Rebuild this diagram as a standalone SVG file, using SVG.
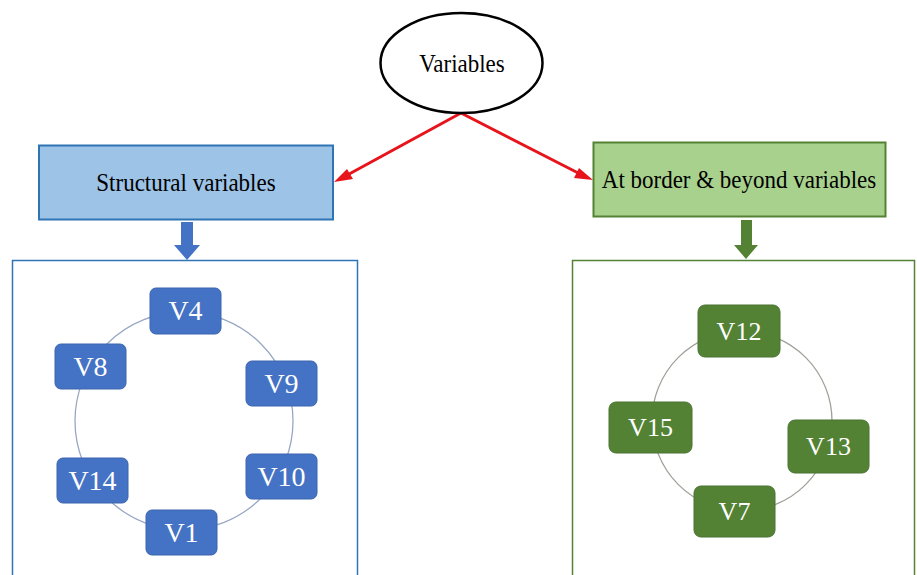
<svg xmlns="http://www.w3.org/2000/svg" width="917" height="575" viewBox="0 0 917 575">
<defs>
<style>
.lbl{font-family:"Liberation Serif","Times New Roman",serif;fill:#000;text-anchor:middle}
.bn rect{fill:#4472C4;stroke:#3B64AD;stroke-width:1}
.gn rect{fill:#548235;stroke:#4A7330;stroke-width:1}
.nt{font-family:"Liberation Serif","Times New Roman",serif;fill:#fff;text-anchor:middle}
</style>
</defs>
<rect width="917" height="575" fill="#fff"/>

<g id="connectors">
<line x1="461" y1="113" x2="340" y2="179" stroke="#E8141B" stroke-width="3"/>
<line x1="461" y1="113" x2="586" y2="177" stroke="#E8141B" stroke-width="3"/>
<path d="M334,182 L347,169 L353,179 z" fill="#E8141B"/>
<path d="M593,180 L574,178 L579,168 z" fill="#E8141B"/>
<path d="M181,222 H193 V245 H200 L187,260 L174,245 H181 z" fill="#4472C4"/>
<path d="M741,220 H752 V245 H758 L746,259 L734,245 H741 z" fill="#548235"/>
</g>

<g id="variables">
<ellipse cx="461.5" cy="63" rx="81" ry="50" fill="#fff" stroke="#000" stroke-width="2.5"/>
<text class="lbl" x="462" y="72" font-size="23" transform="translate(0,-7.2) scale(1,1.1)">Variables</text>
</g>

<g id="structural">
<rect x="39" y="145.5" width="294" height="74" fill="#9DC3E6" stroke="#2E75B6" stroke-width="2"/>
<text class="lbl" x="186" y="191" font-size="23" transform="translate(0,-19.1) scale(1,1.1)">Structural variables</text>
</g>

<g id="border">
<rect x="593.5" y="142.5" width="292" height="74" fill="#A9D18E" stroke="#548235" stroke-width="2"/>
<text class="lbl" x="739" y="188" font-size="23" transform="translate(0,-18.8) scale(1,1.1)">At border &amp; beyond variables</text>
</g>

<g id="structural-group">
<rect x="12.5" y="260.5" width="345" height="320" fill="#fff" stroke="#2E75B6" stroke-width="1.5"/>
<circle cx="184" cy="421" r="109" fill="none" stroke="#98A8C4" stroke-width="1.3"/>
</g>

<g id="border-group">
<rect x="572.5" y="260.5" width="342" height="320" fill="#fff" stroke="#548235" stroke-width="1.5"/>
<circle cx="742" cy="421" r="90" fill="none" stroke="#A0A098" stroke-width="1.3"/>
</g>

<g id="V4" class="bn"><rect x="150" y="288" width="71" height="46" rx="6"/><text class="nt" x="185.5" y="320" font-size="28">V4</text></g>
<g id="V8" class="bn"><rect x="55" y="344" width="71" height="45" rx="6"/><text class="nt" x="90.5" y="376" font-size="28">V8</text></g>
<g id="V9" class="bn"><rect x="246" y="361" width="71" height="45" rx="6"/><text class="nt" x="281.5" y="393" font-size="28">V9</text></g>
<g id="V10" class="bn"><rect x="246" y="454" width="71" height="45" rx="6"/><text class="nt" x="281.5" y="486" font-size="28">V10</text></g>
<g id="V14" class="bn"><rect x="57" y="458" width="71" height="45" rx="6"/><text class="nt" x="92.5" y="490" font-size="28">V14</text></g>
<g id="V1" class="bn"><rect x="146" y="510" width="71" height="45" rx="6"/><text class="nt" x="181.5" y="542" font-size="28">V1</text></g>

<g id="V12" class="gn"><rect x="698" y="305" width="82" height="52" rx="7"/><text class="nt" x="739" y="339.5" font-size="26">V12</text></g>
<g id="V15" class="gn"><rect x="609" y="402" width="83" height="51" rx="7"/><text class="nt" x="650.5" y="436" font-size="26">V15</text></g>
<g id="V13" class="gn"><rect x="788" y="420" width="81" height="53" rx="7"/><text class="nt" x="828.5" y="455" font-size="26">V13</text></g>
<g id="V7" class="gn"><rect x="694" y="486" width="81" height="51" rx="7"/><text class="nt" x="734.5" y="520" font-size="26">V7</text></g>
</svg>
